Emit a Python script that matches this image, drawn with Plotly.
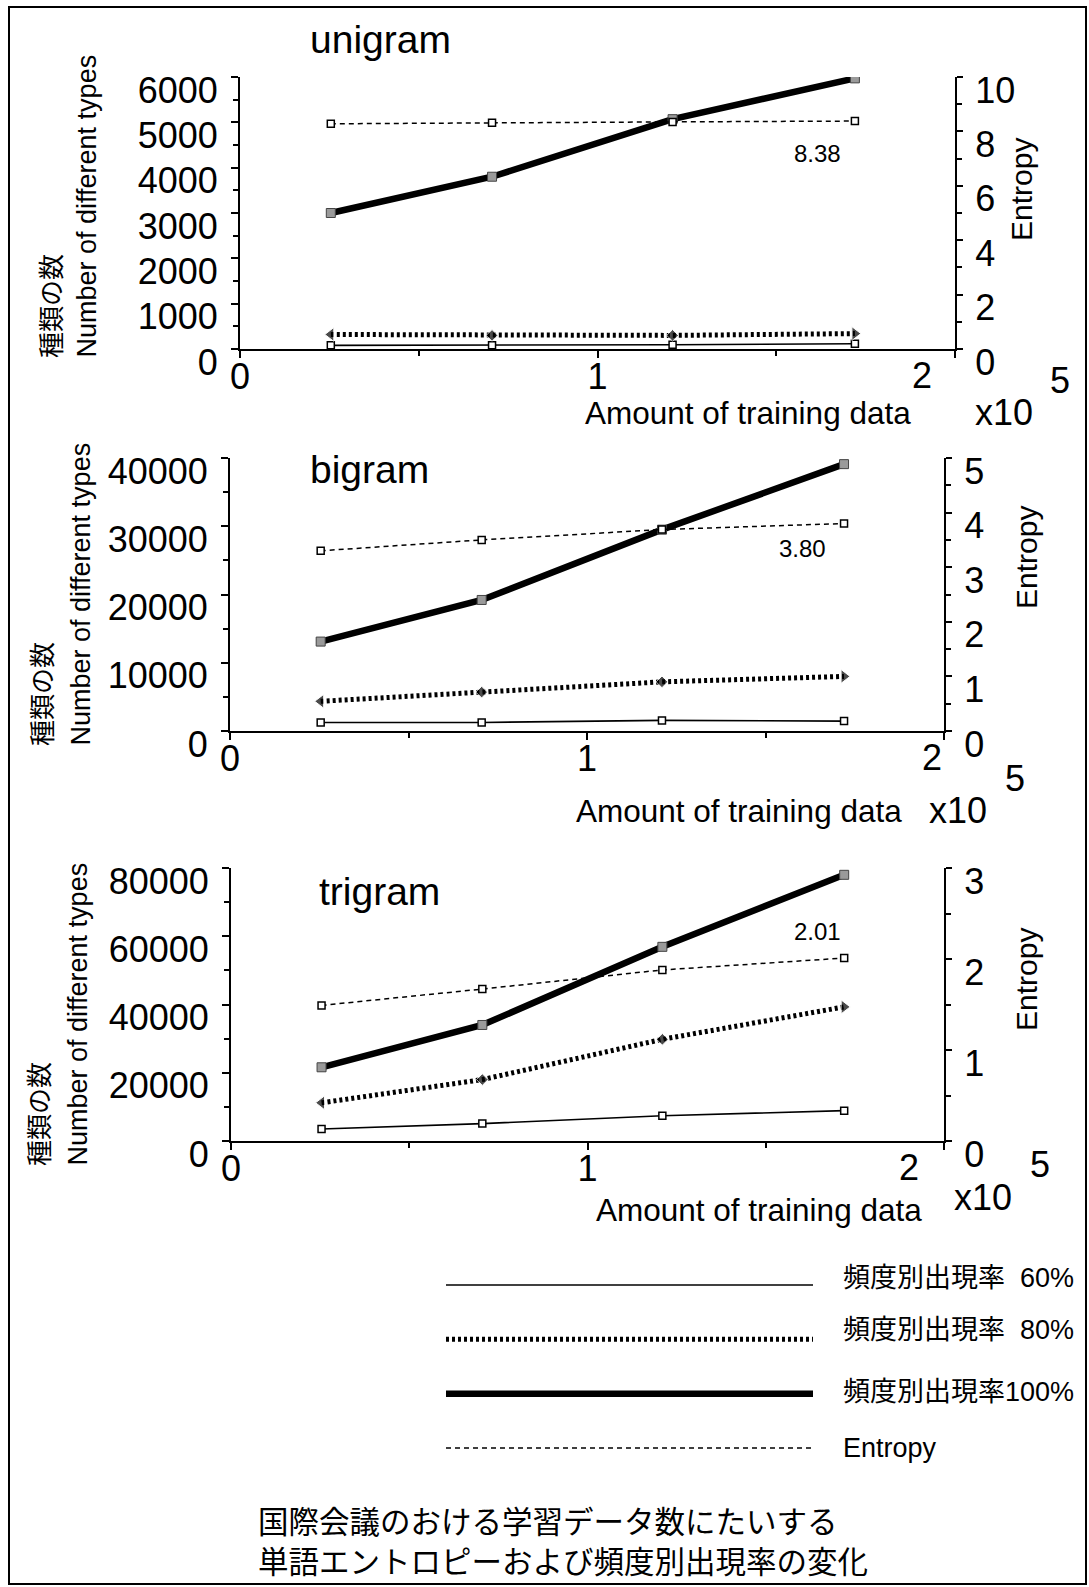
import plotly.graph_objects as go

# ---------------- data ----------------
panel_names = ["unigram", "bigram", "trigram"]
training_amount = [25400, 70500, 121000, 172000]
x_tick_labels = ["0", "1", "2"]

uni_60 = [80, 80, 95, 115]
uni_80 = [320, 300, 300, 340]
uni_100 = [3000, 3800, 5070, 5970]
uni_entropy = [8.28, 8.32, 8.35, 8.38]

bi_60 = [1250, 1250, 1550, 1450]
bi_80 = [4350, 5700, 7200, 8000]
bi_100 = [13100, 19200, 29500, 39100]
bi_entropy = [3.30, 3.50, 3.69, 3.80]

tri_60 = [3500, 5100, 7400, 8900]
tri_80 = [11200, 18000, 29800, 39300]
tri_100 = [21600, 34000, 56900, 78000]
tri_entropy = [1.49, 1.67, 1.88, 2.01]

entropy_end_labels = ["8.38", "3.80", "2.01"]
y_title_jp = "種類の数"
y_title_en = "Number of different types"
y2_title = "Entropy"
x_title = "Amount of training data"
legend_labels = ["頻度別出現率  60%", "頻度別出現率  80%", "頻度別出現率100%", "Entropy"]
caption_lines = ["国際会議のおける学習データ数にたいする", "単語エントロピーおよび頻度別出現率の変化"]

series = [
    (uni_60, uni_80, uni_100, uni_entropy),
    (bi_60, bi_80, bi_100, bi_entropy),
    (tri_60, tri_80, tri_100, tri_entropy),
]

# ---------------- layout helpers ----------------
W, H = 1089, 1587
def px(x):
    return x / W
def py(y):
    return 1 - y / H

LAT = "Liberation Sans, Arial, Helvetica, sans-serif"
MIX = "Liberation Sans, Noto Sans CJK JP, sans-serif"
JP = "Noto Sans CJK JP, sans-serif"

geom = [
    dict(x0=240, x1=955, yt=77, yb=349, ymax=6000, ymaj=1000, ymin=500, emax=10, emaj=2, emin=1,
         title=(380, 40), endlab=(817, 153), xt=(748, 413), x10=(1004, 412), five=(1060, 381),
         jp=(50, 360), en=(87, 360), ent=(1021, 190), two_shift=-33),
    dict(x0=230, x1=944, yt=458, yb=731, ymax=40000, ymaj=10000, ymin=5000, emax=5, emaj=1, emin=0.5,
         title=(369, 470), endlab=(802, 548), xt=(739, 811), x10=(958, 811), five=(1015, 779),
         jp=(40, 748), en=(80, 748), ent=(1026, 558), two_shift=-12),
    dict(x0=231, x1=944, yt=868, yb=1141, ymax=80000, ymaj=20000, ymin=10000, emax=3, emaj=1, emin=0.5,
         title=(379, 891), endlab=(817, 931), xt=(759, 1210), x10=(983, 1197), five=(1040, 1164),
         jp=(37, 1168), en=(77, 1168), ent=(1026, 980), two_shift=-35),
]

fig = go.Figure()
layout = dict(
    width=W, height=H, margin=dict(l=0, r=0, t=0, b=0, pad=0, autoexpand=False),
    paper_bgcolor="white", plot_bgcolor="rgba(0,0,0,0)",
    showlegend=False, font=dict(family=LAT, color="black"),
)
annotations = []

for i, (g, (s60, s80, s100, sent)) in enumerate(zip(geom, series)):
    xa = "x" if i == 0 else f"x{i+1}"
    yname = "y" if i == 0 else f"y{2*i+1}"
    yb = f"y{2*i+2}"
    xkey = "xaxis" if i == 0 else f"xaxis{i+1}"
    ykey = "yaxis" if i == 0 else f"yaxis{2*i+1}"
    y2key = f"yaxis{2*i+2}"

    fig.add_trace(go.Scatter(x=training_amount, y=s60, xaxis=xa, yaxis=yname, mode="lines+markers",
                             line=dict(color="black", width=1.6),
                             marker=dict(symbol="square", size=7, color="white", line=dict(color="black", width=1.5))))
    fig.add_trace(go.Scatter(x=training_amount, y=s80, xaxis=xa, yaxis=yname, mode="lines+markers",
                             line=dict(color="black", width=5, dash="3px,3px"),
                             marker=dict(symbol=["triangle-left", "diamond", "diamond", "triangle-right"],
                                         size=[12, 9, 9, 12], color="black")))
    fig.add_trace(go.Scatter(x=training_amount, y=s100, xaxis=xa, yaxis=yname, mode="lines+markers",
                             line=dict(color="black", width=6.5),
                             marker=dict(symbol="square", size=9, color="#9a9a9a", line=dict(color="#444", width=1))))
    fig.add_trace(go.Scatter(x=training_amount, y=sent, xaxis=xa, yaxis=yb, mode="lines+markers",
                             line=dict(color="black", width=1.5, dash="5px,4px"),
                             marker=dict(symbol="square", size=7, color="white", line=dict(color="black", width=1.5))))

    dom_x = [px(g["x0"]), px(g["x1"])]
    dom_y = [py(g["yb"]), py(g["yt"])]
    layout[xkey] = dict(domain=dom_x, anchor=yname, range=[0, 200000], showline=True, linecolor="black",
                        linewidth=2, ticks="outside", ticklen=7, tickwidth=1.5, tickcolor="black",
                        tickmode="array", tickvals=[0, 100000, 200000],
                        ticktext=[x_tick_labels[0], x_tick_labels[1], ""],
                        minor=dict(tickmode="array", tickvals=[50000, 150000], ticks="outside", ticklen=5,
                                   tickcolor="black", tickwidth=1.5),
                        ticklabelstandoff=-12, automargin=False,
                        tickfont=dict(size=36, family=LAT), showgrid=False, zeroline=False, fixedrange=True)
    layout[ykey] = dict(domain=dom_y, anchor=xa, range=[0, g["ymax"]], showline=True, linecolor="black",
                        linewidth=2, ticks="outside", ticklen=7, tickwidth=1.5, tickcolor="black",
                        tickmode="linear", tick0=0, dtick=g["ymaj"], tickformat="d",
                        minor=dict(dtick=g["ymin"], ticks="outside", ticklen=5, tickcolor="black", tickwidth=1.5),
                        ticklabelshift=13, ticklabelstandoff=6, automargin=False,
                        tickfont=dict(size=36, family=LAT), showgrid=False, zeroline=False, fixedrange=True)
    layout[y2key] = dict(domain=dom_y, anchor=xa, overlaying=yname, side="right", range=[0, g["emax"]],
                         showline=True, linecolor="black", linewidth=2, ticks="outside", ticklen=6,
                         tickwidth=1.5, tickcolor="black", tickmode="linear", tick0=0, dtick=g["emaj"],
                         minor=dict(dtick=g["emin"], ticks="outside", ticklen=5, tickcolor="black", tickwidth=1.5),
                         ticklabelshift=13, ticklabelstandoff=5, automargin=False,
                         tickfont=dict(size=36, family=LAT), showgrid=False, zeroline=False, fixedrange=True)

    annotations += [
        dict(text=panel_names[i], x=px(g["title"][0]), y=py(g["title"][1]), xref="paper", yref="paper",
             showarrow=False, font=dict(size=39, family=LAT), xanchor="center", yanchor="middle"),
        dict(text=entropy_end_labels[i], x=px(g["endlab"][0]), y=py(g["endlab"][1]), xref="paper", yref="paper",
             showarrow=False, font=dict(size=24, family=LAT), xanchor="center", yanchor="middle"),
        dict(text=x_title, x=px(g["xt"][0]), y=py(g["xt"][1]), xref="paper", yref="paper",
             showarrow=False, font=dict(size=31.5, family=LAT), xanchor="center", yanchor="middle"),
        dict(text="x10", x=px(g["x10"][0]), y=py(g["x10"][1]), xref="paper", yref="paper",
             showarrow=False, font=dict(size=36, family=LAT), xanchor="center", yanchor="middle"),
        dict(text="5", x=px(g["five"][0]), y=py(g["five"][1]), xref="paper", yref="paper",
             showarrow=False, font=dict(size=36, family=LAT), xanchor="center", yanchor="middle"),
        dict(text=x_tick_labels[2], x=200000, y=0, xref=xa, yref=f"{yname} domain", xshift=g["two_shift"],
             yshift=-4, showarrow=False, font=dict(size=36, family=LAT), xanchor="center", yanchor="top"),
        dict(text=y_title_jp, x=px(g["jp"][0]), y=py(g["jp"][1]), xref="paper", yref="paper", textangle=-90,
             showarrow=False, font=dict(size=26, family=JP), xanchor="center", yanchor="bottom"),
        dict(text=y_title_en, x=px(g["en"][0]), y=py(g["en"][1]), xref="paper", yref="paper", textangle=-90,
             showarrow=False, font=dict(size=27, family=LAT), xanchor="center", yanchor="bottom"),
        dict(text=y2_title, x=px(g["ent"][0]), y=py(g["ent"][1]), xref="paper", yref="paper", textangle=-90,
             showarrow=False, font=dict(size=30, family=LAT), xanchor="center", yanchor="middle"),
    ]

# ---------------- custom legend (own axes) ----------------
leg_rows = [0, 1, 2, 3]
fig.add_trace(go.Scatter(x=[0, 1], y=[leg_rows[0]] * 2, xaxis="x4", yaxis="y7", mode="lines",
                         line=dict(color="black", width=1.6)))
fig.add_trace(go.Scatter(x=[0, 1], y=[leg_rows[1]] * 2, xaxis="x4", yaxis="y7", mode="lines",
                         line=dict(color="black", width=5, dash="3px,3px")))
fig.add_trace(go.Scatter(x=[0, 1], y=[leg_rows[2]] * 2, xaxis="x4", yaxis="y7", mode="lines",
                         line=dict(color="black", width=6.5)))
fig.add_trace(go.Scatter(x=[0, 1], y=[leg_rows[3]] * 2, xaxis="x4", yaxis="y7", mode="lines",
                         line=dict(color="black", width=1.5, dash="5px,4px")))
layout["xaxis4"] = dict(domain=[px(446), px(813)], anchor="y7", range=[0, 1], visible=False,
                        fixedrange=True, automargin=False)
layout["yaxis7"] = dict(domain=[py(1448 + 27.2), py(1285 - 27.2)], anchor="x4", range=[3.5, -0.5],
                        visible=False, fixedrange=True, automargin=False)
leg_shift = [7, 9, 2, 0]
for r, lab, sh in zip(leg_rows, legend_labels, leg_shift):
    annotations.append(dict(text=lab, x=px(841), y=r, xref="paper", yref="y7", yshift=sh, showarrow=False,
                            font=dict(size=27, family=MIX), xanchor="left", yanchor="middle"))

annotations.append(dict(text="<br>".join(caption_lines), x=px(256), y=py(1584), xref="paper", yref="paper",
                        showarrow=False, align="left", font=dict(size=30.5, family=JP),
                        xanchor="left", yanchor="bottom"))

layout["annotations"] = annotations
layout["shapes"] = [dict(type="rect", xref="paper", yref="paper", x0=px(9), x1=px(1086), y0=py(1584), y1=py(7),
                         line=dict(color="black", width=2))]
fig.update_layout(**layout)
fig.write_html("out.html", config={"displayModeBar": False},
               post_script="document.body.style.margin='0';document.body.style.overflow='hidden';")
